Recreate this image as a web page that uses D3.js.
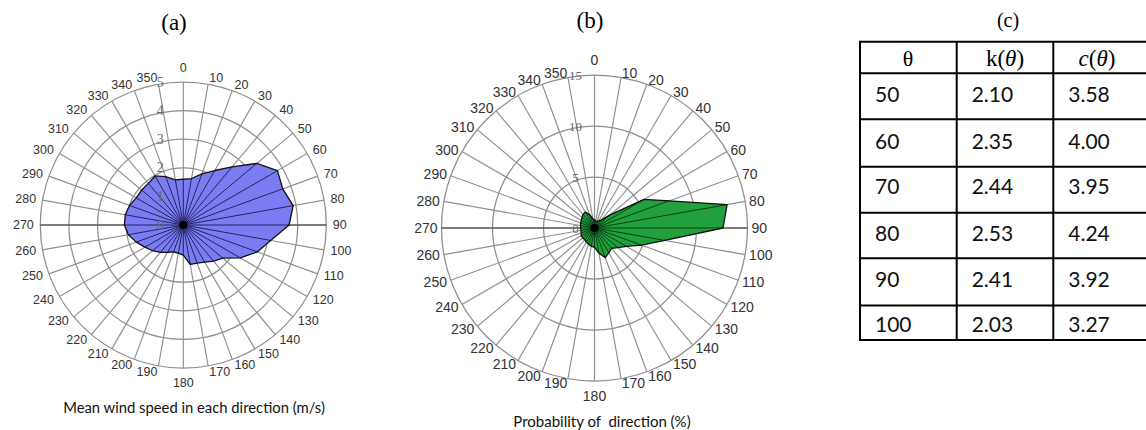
<!DOCTYPE html>
<html><head><meta charset="utf-8">
<script src="https://cdn.jsdelivr.net/npm/d3@7/dist/d3.min.js"></script>
<style>body{margin:0;background:#fff}svg{display:block}</style>
</head><body>
<svg id="chart" width="1146" height="430"></svg>
<script>
// ---- data ----
const directions = [0,10,20,30,40,50,60,70,80,90,100,110,120,130,140,150,160,170,
                    180,190,200,210,220,230,240,250,260,270,280,290,300,310,320,330,340,350];
const meanSpeed = [1.6,1.65,1.9,2.2,2.65,3.35,3.8,3.7,3.9,3.7,3.1,2.75,2.3,1.8,1.65,1.5,1.42,1.4,
                   1.05,1.0,1.0,1.1,1.25,1.4,1.55,1.75,1.95,2.06,2.06,2.0,1.9,1.9,1.9,1.98,1.8,1.6];
const probability = [0.8,0.7,0.7,0.8,1.0,2.0,5.6,7.8,13.2,12.6,7.0,4.9,3.6,3.0,2.6,2.8,3.1,2.5,
                     1.9,1.8,1.7,1.6,1.5,1.5,1.5,1.4,1.35,1.35,1.4,1.45,1.5,1.6,1.75,1.8,1.4,0.9];
const speedTicks = [0,1,2,3,4,5];
const probTicks = [0,5,10,15];
const tableHeader = ["θ","k(θ)","c(θ)"];
const tableTheta = ["50","60","70","80","90","100"];
const tableK = ["2.10","2.35","2.44","2.53","2.41","2.03"];
const tableC = ["3.58","4.00","3.95","4.24","3.92","3.27"];

const svg = d3.select("#chart");

function polarPanel(cfg){
  const g = svg.append("g").attr("transform",`translate(${cfg.cx},${cfg.cy})`);
  const r = d3.scaleLinear().domain([0, cfg.max]).range([0, cfg.R]);
  const ang = d3.scaleLinear().domain([0,360]).range([0, 2*Math.PI]);
  const px = (deg, rad) => rad*Math.sin(ang(deg));
  const py = (deg, rad) => -rad*Math.cos(ang(deg));

  // rings
  g.selectAll("circle.ring").data(cfg.ticks.filter(t=>t>0)).join("circle")
    .attr("class","ring").attr("r", d=>r(d))
    .attr("fill","none").attr("stroke","#8f8f8f").attr("stroke-width",1.25);
  // grid spokes
  g.selectAll("line.spoke").data(directions).join("line")
    .attr("class","spoke")
    .attr("x1",0).attr("y1",0)
    .attr("x2",d=>px(d,cfg.R)).attr("y2",d=>py(d,cfg.R))
    .attr("stroke","#8f8f8f").attr("stroke-width",1.15);
  // horizontal axis line darker
  g.append("line").attr("x1",px(270,cfg.R)).attr("y1",0).attr("x2",px(90,cfg.R)).attr("y2",0)
    .attr("stroke","#333").attr("stroke-width",1);

  const pts = directions.map((d,i)=>({dir:d, v:cfg.values[i]}));
  const radial = d3.lineRadial().angle(d=>ang(d.dir)).radius(d=>r(d.v)).curve(d3.curveLinearClosed);
  g.append("path").attr("d", radial(pts)).attr("fill", cfg.fill).attr("stroke","none");
  // data spokes
  g.selectAll("line.dspoke").data(pts).join("line")
    .attr("class","dspoke")
    .attr("x1",0).attr("y1",0)
    .attr("x2",d=>px(d.dir,r(d.v))).attr("y2",d=>py(d.dir,r(d.v)))
    .attr("stroke",cfg.spoke).attr("stroke-width",1);
  g.append("path").attr("d", radial(pts)).attr("fill","none").attr("stroke","#111").attr("stroke-width",1.3)
    .attr("stroke-linejoin","round");
  g.append("circle").attr("r",4).attr("fill","#000");

  // radial tick labels
  g.selectAll("text.rt").data(cfg.ticks).join("text")
    .attr("class","rt")
    .attr("x", cfg.rlx).attr("y", d=>-r(d))
    .attr("text-anchor","middle").attr("dominant-baseline","central")
    .attr("font-family","'Liberation Serif','Times New Roman',serif")
    .attr("font-size",cfg.rfs).attr("fill","#6a6a6a")
    .text(d=>d);
  // angle labels (anchored at their inner edge, like MATLAB polar)
  const R0 = cfg.R + cfg.gap;
  g.selectAll("text.al").data(directions).join("text")
    .attr("class","al")
    .attr("x", d=>px(d,R0))
    .attr("y", d=> d===0 ? -(R0+cfg.vgap) : d===180 ? (R0+cfg.vgap) : py(d,R0))
    .attr("text-anchor", d=> (d===0||d===180) ? "middle" : d<180 ? "start" : "end")
    .attr("dominant-baseline","central")
    .attr("font-family","'Liberation Sans',Arial,sans-serif")
    .attr("font-size",cfg.afs).attr("fill","#333")
    .text(d=>d);
}

polarPanel({cx:183.3, cy:225, R:143, max:5, ticks:speedTicks, values:meanSpeed,
  fill:"#7b7bf2", spoke:"#23235e", gap:6.5, vgap:8, afs:12.5, rfs:14, rlx:-23});
polarPanel({cx:594.5, cy:228, R:153, max:15, ticks:probTicks, values:probability,
  fill:"#21a03d", spoke:"#0c3f17", gap:4, vgap:11, afs:14, rfs:13, rlx:-19});

// panel titles
const serif = "'Liberation Serif','Times New Roman',serif";
svg.append("text").attr("x",174).attr("y",22).attr("text-anchor","middle").attr("dominant-baseline","central")
  .attr("font-family",serif).attr("font-size",23).text("(a)");
svg.append("text").attr("x",590).attr("y",20).attr("text-anchor","middle").attr("dominant-baseline","central")
  .attr("font-family",serif).attr("font-size",23).text("(b)");
svg.append("text").attr("x",1008).attr("y",20).attr("text-anchor","middle").attr("dominant-baseline","central")
  .attr("font-family",serif).attr("font-size",20).text("(c)");

// captions
svg.append("text").attr("x",194).attr("y",407).attr("text-anchor","middle").attr("dominant-baseline","central")
  .attr("font-family","Lato,'Open Sans',sans-serif").attr("font-size",14.8).attr("fill","#111")
  .text("Mean wind speed in each direction (m/s)");
svg.append("text").attr("x",602).attr("y",421).attr("text-anchor","middle").attr("dominant-baseline","central")
  .attr("font-family","Lato,'Open Sans',sans-serif").attr("font-size",15).attr("fill","#111")
  .attr("xml:space","preserve").style("white-space","pre")
  .text("Probability of  direction (%)");

// table
const colX = [860, 956.7, 1053.3, 1150];
const rowY = [41.7, 73.3, 119.3, 166.7, 212.7, 258.3, 305.5, 340];
const tg = svg.append("g");
tg.selectAll("line.h").data(rowY).join("line")
  .attr("x1",colX[0]-1).attr("x2",colX[3]).attr("y1",d=>d).attr("y2",d=>d)
  .attr("stroke","#000").attr("stroke-width",2);
tg.selectAll("line.v").data(colX.slice(0,3)).join("line")
  .attr("x1",d=>d).attr("x2",d=>d).attr("y1",rowY[0]).attr("y2",rowY[rowY.length-1])
  .attr("stroke","#000").attr("stroke-width",2);

// header
const hdrCx = [908, 1005, 1097];
const hdr = tg.selectAll("text.hd").data(tableHeader).join("text")
  .attr("x",(d,i)=>hdrCx[i]).attr("y",58).attr("text-anchor","middle").attr("dominant-baseline","central")
  .attr("font-family",serif).attr("font-size",23);
hdr.each(function(d,i){
  const t = d3.select(this);
  if(i===0){ t.attr("font-size",22).text("θ"); }
  else if(i===1){
    t.append("tspan").text("k(");
    t.append("tspan").attr("font-style","italic").text("θ");
    t.append("tspan").text(")");
  } else {
    t.append("tspan").attr("font-style","italic").text("c");
    t.append("tspan").text("(");
    t.append("tspan").attr("font-style","italic").text("θ");
    t.append("tspan").text(")");
  }
});
const textY = [93.3, 140, 185.5, 232.5, 278.5, 323.5];
const cols = [tableTheta, tableK, tableC];
cols.forEach((col,ci)=>{
  tg.selectAll("text.c"+ci).data(col).join("text")
    .attr("x", colX[ci]+15).attr("y",(d,i)=>textY[i])
    .attr("dominant-baseline","central")
    .attr("font-family","Lato,'Open Sans',sans-serif").attr("font-size",21).attr("fill","#111")
    .text(d=>d);
});
</script>
</body></html>
